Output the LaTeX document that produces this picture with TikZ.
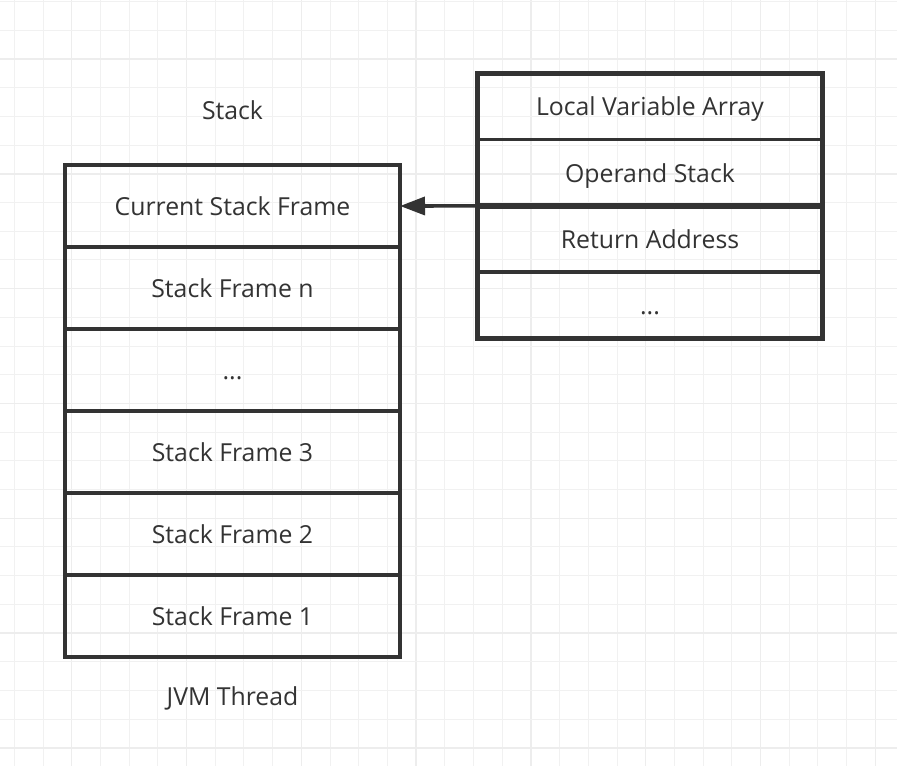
\documentclass[tikz,border=0pt]{standalone}
\usepackage{fontspec}
\setmainfont{Open Sans}
\usetikzlibrary{positioning,arrows.meta}

\definecolor{ink}{HTML}{333333}
\definecolor{gridminor}{HTML}{F1F1F1}
\definecolor{gridmajor}{HTML}{EDEDED}

\tikzset{
  stackframe/.style={rectangle, draw=ink, line width=3.4pt, outer sep=0pt, inner sep=0pt,
    minimum width=335pt, minimum height=82pt, text=ink,
    text height=18.5pt, text depth=0pt, font=\fontsize{24.8}{30}\selectfont},
  framepart/.style={stackframe, minimum width=345pt, minimum height=66.25pt},
  caption/.style={text=ink, text height=18.5pt, text depth=0pt, font=\fontsize{24.8}{30}\selectfont}
}

\begin{document}
\begin{tikzpicture}[x=1pt,y=1pt]
  \useasboundingbox (0,0) rectangle (897,-766);
  \fill[white] (0,0) rectangle (897,-766);

  % the grid paper
  \foreach \k in {0,...,30} {
    \pgfmathtruncatemacro{\major}{mod(\k,4)==2}
    \ifnum\major=1
      \draw[gridmajor, line width=1.4pt] ({14.3+\k*28.7},0) -- ({14.3+\k*28.7},-766);
    \else
      \draw[gridminor, line width=1pt] ({14.3+\k*28.7},0) -- ({14.3+\k*28.7},-766);
    \fi
  }
  \foreach \k in {0,...,26} {
    \pgfmathtruncatemacro{\major}{mod(\k,4)==2}
    \ifnum\major=1
      \draw[gridmajor, line width=1.4pt] (0,{-1.6-\k*28.7}) -- (897,{-1.6-\k*28.7});
    \else
      \draw[gridminor, line width=1pt] (0,{-1.6-\k*28.7}) -- (897,{-1.6-\k*28.7});
    \fi
  }

  % the stack of the thread
  \node[caption] (stacklabel) at (232.5,-110) {Stack};
  \node[stackframe] (current) at (232.5,-206) {Current Stack Frame};
  \node[stackframe, below=0pt of current] (framen) {Stack Frame n};
  \node[stackframe, below=0pt of framen] (framedots) {...};
  \node[stackframe, below=0pt of framedots] (frame3) {Stack Frame 3};
  \node[stackframe, below=0pt of frame3] (frame2) {Stack Frame 2};
  \node[stackframe, below=0pt of frame2] (frame1) {Stack Frame 1};
  \node[caption] (threadlabel) at (232.5,-696) {JVM Thread};

  % one stack frame in detail
  \node[framepart] (locals) at (650,-106.5) {Local Variable Array};
  \node[framepart, below=0pt of locals] (operands) {Operand Stack};
  \node[framepart, below=0pt of operands] (retaddr) {Return Address};
  \node[framepart, below=0pt of retaddr] (partdots) {...};
  \draw[ink, line width=4.5pt] (locals.north west) rectangle (partdots.south east);
  \draw[ink, line width=6pt] (operands.south west) -- (operands.south east);

  % the arrow to the current frame
  \draw[ink, line width=3.6pt, -{Triangle[length=25pt,width=18pt]}] (operands.south west) -- (current.east);
\end{tikzpicture}
\end{document}
